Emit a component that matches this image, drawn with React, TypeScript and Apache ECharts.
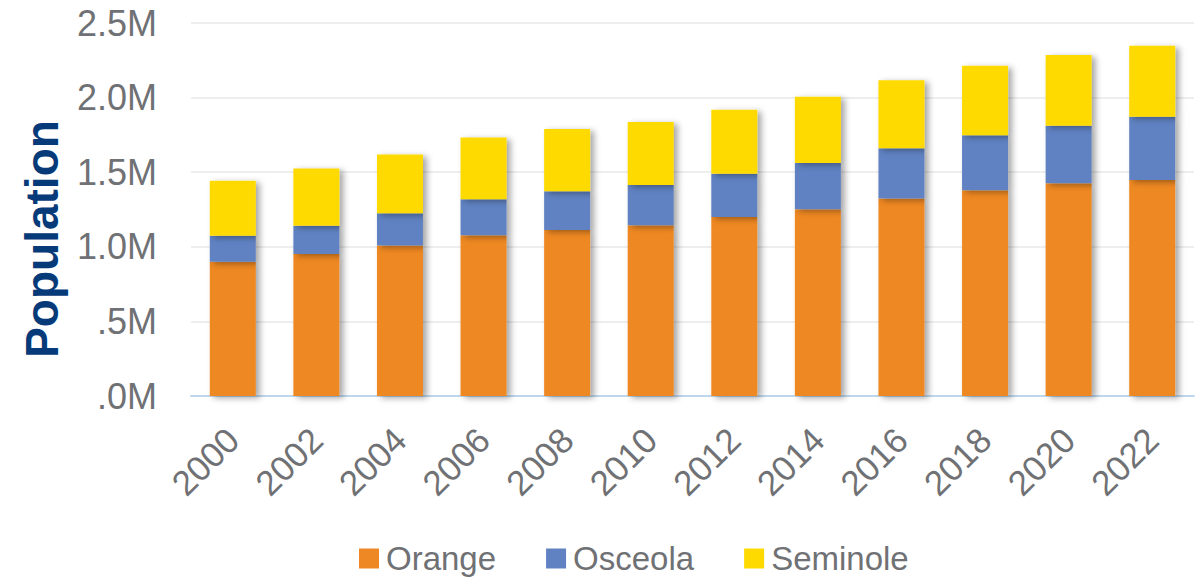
import React, { useEffect, useRef } from "react";
import * as echarts from "echarts";

const years = ["2000", "2002", "2004", "2006", "2008", "2010", "2012", "2014", "2016", "2018", "2020", "2022"];
// values in millions
const orange = [0.900, 0.951, 1.009, 1.078, 1.112, 1.145, 1.199, 1.252, 1.324, 1.379, 1.426, 1.448];
const osceola = [0.174, 0.190, 0.216, 0.241, 0.260, 0.270, 0.290, 0.310, 0.336, 0.368, 0.385, 0.424];
const seminole = [0.368, 0.383, 0.393, 0.414, 0.417, 0.421, 0.429, 0.443, 0.457, 0.466, 0.475, 0.476];

const FONT = "'Liberation Sans', Arial, sans-serif";
const GRAY = "#6f7174";

export default function App() {
  const ref = useRef<HTMLDivElement>(null);
  useEffect(() => {
    if (!ref.current) return;
    const chart = echarts.init(ref.current, null, { renderer: "svg" });
    const shadow = {
      shadowColor: "rgba(0,0,0,0.35)",
      shadowBlur: 6,
      shadowOffsetX: 4,
      shadowOffsetY: 2,
    };
    const mk = (name: string, data: number[], color: string) => ({
      name,
      type: "bar",
      stack: "pop",
      data,
      barWidth: 46,
      itemStyle: { color, ...shadow },
    });
    chart.setOption({
      animation: false,
      textStyle: { fontFamily: FONT },
      grid: { left: 191, right: 9, top: 23, bottom: 184 },
      legend: {
        left: 354,
        top: 537,
        itemWidth: 20,
        itemHeight: 20,
        itemGap: 50,
        icon: "rect",
        textStyle: { fontSize: 33, color: GRAY, fontFamily: FONT, padding: [0, 0, 0, 2] },
        data: ["Orange", "Osceola", "Seminole"],
      },
      xAxis: {
        type: "category",
        data: years,
        axisLine: { lineStyle: { color: "#bdd7ee", width: 2 } },
        axisTick: { show: false },
        axisLabel: { rotate: 45, fontSize: 35, color: GRAY, margin: 38, fontFamily: FONT },
      },
      yAxis: {
        type: "value",
        min: 0,
        max: 2.5,
        interval: 0.5,
        axisLine: { show: false },
        axisTick: { show: false },
        splitLine: { lineStyle: { color: "#e8e8e8", width: 1.5 } },
        axisLabel: {
          fontSize: 36,
          color: GRAY,
          margin: 34,
          fontFamily: FONT,
          formatter: (v: number) => {
            const s = v.toFixed(1);
            return (v < 1 ? s.replace(/^0/, "") : s) + "M";
          },
        },
      },
      graphic: [
        {
          type: "text",
          x: 42,
          y: 239,
          rotation: Math.PI / 2,
          style: {
            text: "Population",
            fontSize: 46,
            fontWeight: "bold",
            fontFamily: FONT,
            fill: "#063a78",
            align: "center",
            verticalAlign: "middle",
          },
        },
      ],
      series: [
        mk("Orange", orange, "#ee8824"),
        mk("Osceola", osceola, "#6182c2"),
        mk("Seminole", seminole, "#ffda00"),
      ],
    });
    return () => chart.dispose();
  }, []);
  return (
    <div
      ref={ref}
      style={{ position: "fixed", left: 0, top: 0, width: 1203, height: 580, background: "#fff" }}
    />
  );
}
